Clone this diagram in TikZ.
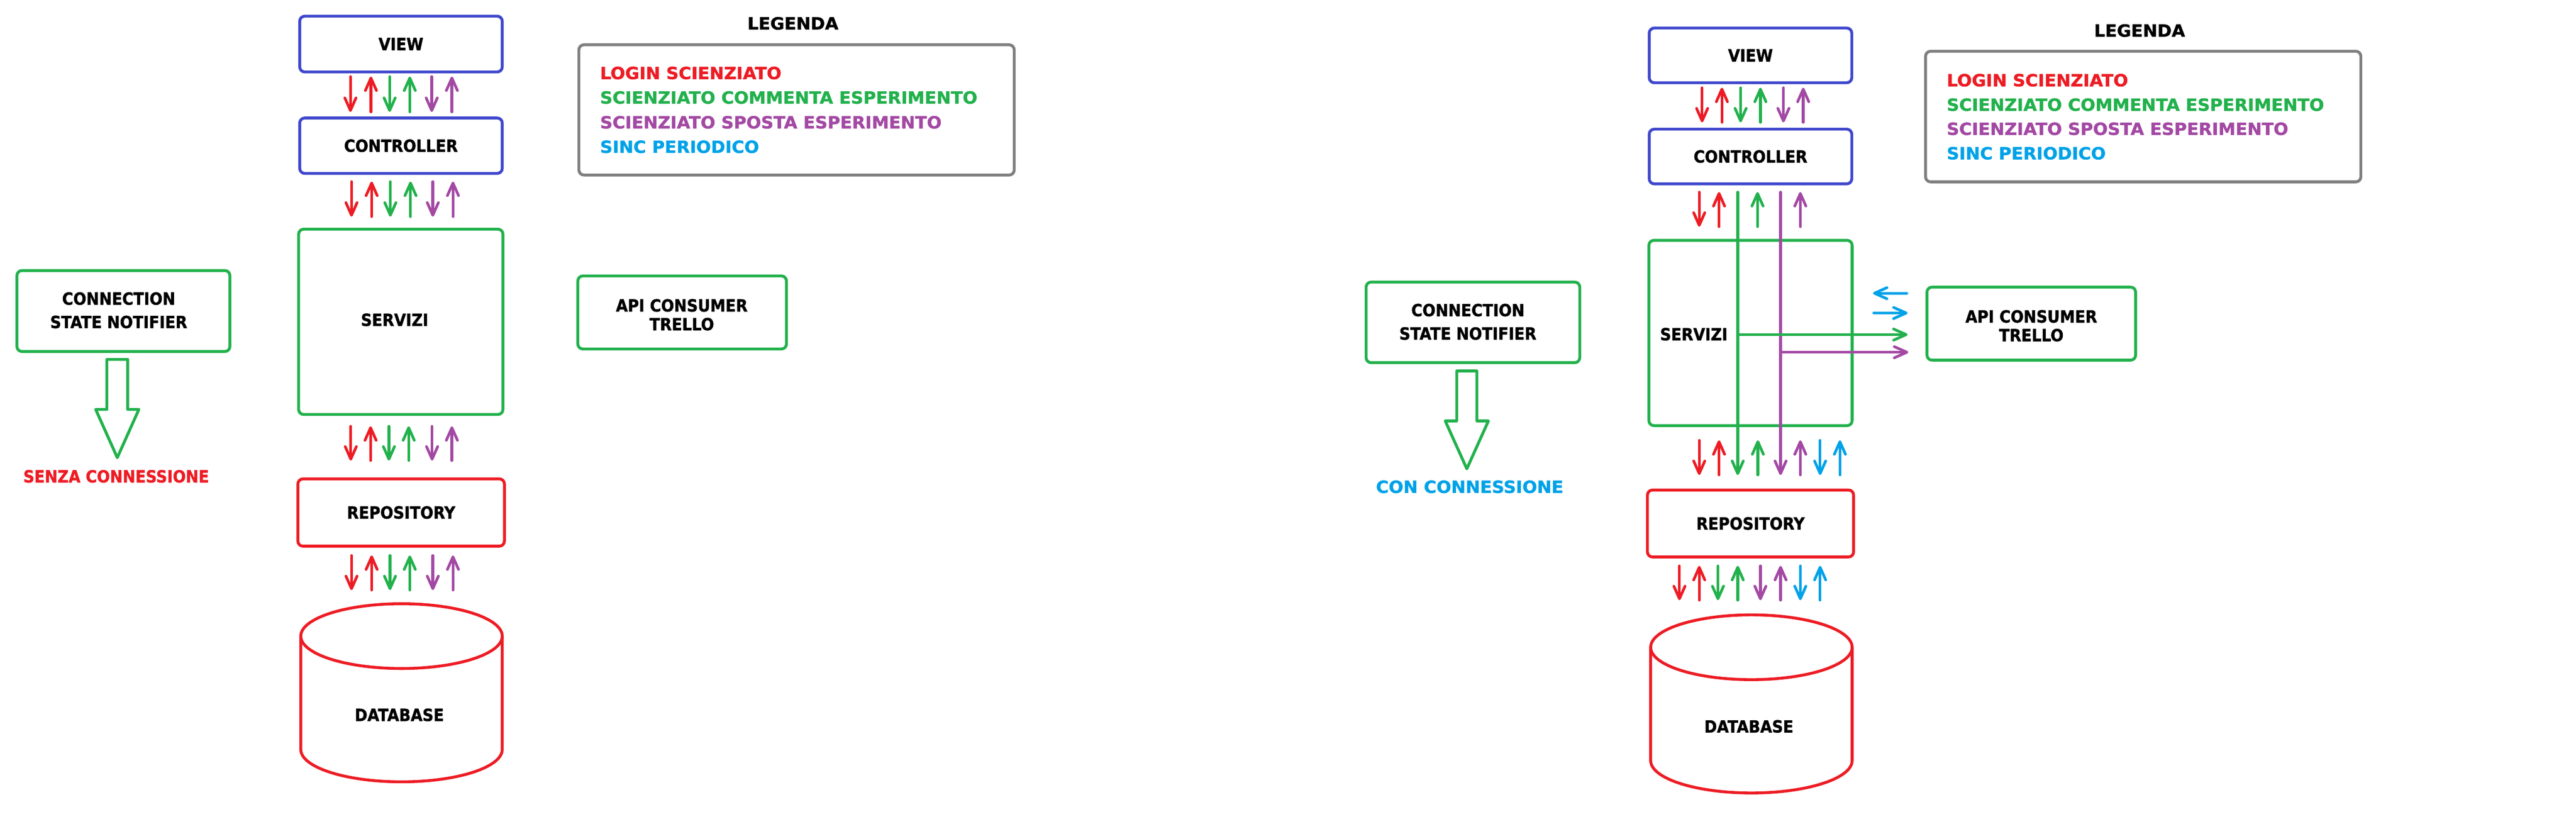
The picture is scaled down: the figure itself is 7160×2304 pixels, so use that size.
\documentclass[tikz,border=0pt]{standalone}
\usepackage{fontspec}
\usetikzlibrary{arrows.meta}
\newfontfamily\fnar{DejaVu Sans Bold}[FakeStretch=0.91,FakeBold=1.5]
\newfontfamily\fwid{DejaVu Sans Bold}[FakeStretch=1.03,FakeBold=1.5]
\definecolor{cblue}{HTML}{3F48CC}
\definecolor{cgreen}{HTML}{22B14C}
\definecolor{cred}{HTML}{ED1C24}
\definecolor{cpurp}{HTML}{A349A4}
\definecolor{ccyan}{HTML}{00A2E8}
\definecolor{cgray}{HTML}{7F7F7F}
\newcommand\adn[4]{\draw[arr,#1] (#2,#3) -- (#2,#4);}
\newcommand\aup[4]{\draw[arr,#1] (#2,#4) -- (#2,#3);}
\begin{document}
\begin{tikzpicture}[x=0.1pt,y=-0.1pt,
  box/.style={draw=#1, line width=0.8pt, rounded corners=1.4pt, inner sep=0pt,
    font=\fnar\fontsize{4.66pt}{5.2pt}\selectfont, align=center, text=black},
  lbl/.style={inner sep=0pt, font=\fnar\fontsize{4.66pt}{5.2pt}\selectfont, align=center},
  wlbl/.style={inner sep=0pt, font=\fwid\fontsize{4.66pt}{5.2pt}\selectfont},
  arr/.style={line width=0.75pt, line cap=round, -{Straight Barb[length=3.5pt,width=3.1pt,round]}},
  dbline/.style={draw=cred, line width=0.8pt},
  blockarrow/.style={draw=cgreen, line width=0.8pt, line join=round}]
\useasboundingbox (0,0) rectangle (7160,2304);

% ================= LEFT =================
\node[box=cblue, minimum width=56.3pt, minimum height=15.5pt] (lview) at (1114.5,122.5) {VIEW};
\node[box=cblue, minimum width=56.3pt, minimum height=15.4pt] (lctrl) at (1114.5,405) {CONTROLLER};
\node[box=cgreen, minimum width=56.8pt, minimum height=51.5pt] (lserv) at (1114,894.5) {};
\node[lbl] (lservt) at (1097,889) {SERVIZI};
\node[box=cred, minimum width=57.4pt, minimum height=18.7pt] (lrepo) at (1115,1424.5) {REPOSITORY};
% database
\draw[dbline] (1116,1768) ellipse [x radius=28pt, y radius=9pt];
\draw[dbline] (836,1768) -- (836,2083) arc[start angle=180, end angle=360, x radius=28pt, y radius=9pt] -- (1396,1768);
\node[lbl] (ldb) at (1110,1987) {DATABASE};
% legend
\node[wlbl] (lleg) at (2204,65) {LEGENDA};
\node[box=cgray, minimum width=121pt, minimum height=36.2pt] (llegbox) at (2214,305.5) {};
\node[wlbl, anchor=west, text=cred] (ll1) at (1666,203) {LOGIN SCIENZIATO};
\node[wlbl, anchor=west, text=cgreen] (ll2) at (1666,271) {SCIENZIATO COMMENTA ESPERIMENTO};
\node[wlbl, anchor=west, text=cpurp] (ll3) at (1666,340) {SCIENZIATO SPOSTA ESPERIMENTO};
\node[wlbl, anchor=west, text=ccyan] (ll4) at (1666,408) {SINC PERIODICO};
% api
\node[box=cgreen, minimum width=58pt, minimum height=20.3pt] (lapi) at (1896,868.5) {};
\node[lbl] (lapit) at (1895,875) {API CONSUMER\\TRELLO};
% notifier
\node[box=cgreen, minimum width=59.2pt, minimum height=22.5pt] (lnot) at (343,864.5) {};
\node[lbl, font=\fnar\fontsize{4.66pt}{6.5pt}\selectfont] (lnott) at (330,862.5) {CONNECTION\\STATE NOTIFIER};
\draw[blockarrow] (297,999) -- (355,999) -- (355,1138) -- (386,1138) -- (326,1272) -- (266,1138) -- (297,1138) -- cycle;
\node[lbl, text=cred] (lsenza) at (323,1324) {SENZA CONNESSIONE};
% arrows row 1
\adn{cred}{974}{213}{311} \aup{cred}{1031}{213}{311}
\adn{cgreen}{1083}{213}{311} \aup{cgreen}{1139}{213}{311}
\adn{cpurp}{1200}{213}{311} \aup{cpurp}{1256}{213}{311}
% row 2
\adn{cred}{977}{505}{602} \aup{cred}{1033}{505}{602}
\adn{cgreen}{1085}{505}{602} \aup{cgreen}{1141}{505}{602}
\adn{cpurp}{1203}{505}{602} \aup{cpurp}{1259}{505}{602}
% row 3
\adn{cred}{975}{1185}{1280} \aup{cred}{1030}{1185}{1280}
\adn{cgreen}{1081}{1185}{1280} \aup{cgreen}{1136}{1185}{1280}
\adn{cpurp}{1201}{1185}{1280} \aup{cpurp}{1256}{1185}{1280}
% row 4
\adn{cred}{977}{1544}{1640} \aup{cred}{1033}{1544}{1640}
\adn{cgreen}{1084}{1544}{1640} \aup{cgreen}{1139}{1544}{1640}
\adn{cpurp}{1203}{1544}{1640} \aup{cpurp}{1259}{1544}{1640}

% ================= RIGHT =================
\node[box=cblue, minimum width=56.3pt, minimum height=15.2pt] (rview) at (4865.5,154) {VIEW};
\node[box=cblue, minimum width=56.3pt, minimum height=15.2pt] (rctrl) at (4865.5,435) {CONTROLLER};
\node[box=cgreen, minimum width=56.5pt, minimum height=51.5pt] (rserv) at (4865.5,925.5) {};
\node[lbl] (rservt) at (4708,929) {SERVIZI};
\node[box=cred, minimum width=57.3pt, minimum height=18.6pt] (rrepo) at (4865.5,1455) {REPOSITORY};
% database
\draw[dbline] (4868,1799) ellipse [x radius=28pt, y radius=9pt];
\draw[dbline] (4588,1799) -- (4588,2114) arc[start angle=180, end angle=360, x radius=28pt, y radius=9pt] -- (5148,1799);
\node[lbl] (rdb) at (4861,2019) {DATABASE};
% legend
\node[wlbl] (rleg) at (5947,85) {LEGENDA};
\node[box=cgray, minimum width=121pt, minimum height=36.3pt] (rlegbox) at (5957,324) {};
\node[wlbl, anchor=west, text=cred] (rl1) at (5409,223) {LOGIN SCIENZIATO};
\node[wlbl, anchor=west, text=cgreen] (rl2) at (5409,291) {SCIENZIATO COMMENTA ESPERIMENTO};
\node[wlbl, anchor=west, text=cpurp] (rl3) at (5409,358) {SCIENZIATO SPOSTA ESPERIMENTO};
\node[wlbl, anchor=west, text=ccyan] (rl4) at (5409,426) {SINC PERIODICO};
% api
\node[box=cgreen, minimum width=58pt, minimum height=20.3pt] (rapi) at (5646,899.5) {};
\node[lbl] (rapit) at (5646,905.5) {API CONSUMER\\TRELLO};
% notifier
\node[box=cgreen, minimum width=59.4pt, minimum height=22.4pt] (rnot) at (4094,896) {};
\node[lbl, font=\fnar\fontsize{4.66pt}{6.5pt}\selectfont] (rnott) at (4080,894.5) {CONNECTION\\STATE NOTIFIER};
\draw[blockarrow] (4049,1031) -- (4105,1031) -- (4105,1170) -- (4137,1170) -- (4077,1303) -- (4017,1170) -- (4049,1170) -- cycle;
\node[wlbl, text=ccyan] (rcon) at (4085,1353) {CON CONNESSIONE};
% row 1
\adn{cred}{4731}{244}{340} \aup{cred}{4786}{244}{340}
\adn{cgreen}{4838}{244}{340} \aup{cgreen}{4893}{244}{340}
\adn{cpurp}{4957}{244}{340} \aup{cpurp}{5012}{244}{340}
% row 2
\adn{cred}{4723}{534}{630} \aup{cred}{4778}{534}{630}
\aup{cgreen}{4885}{534}{630}
\aup{cpurp}{5004}{534}{630}
% long lines through servizi
\coordinate (gtop) at (4830,534);
\coordinate (ptop) at (4949,534);
\draw[arr,cgreen] (gtop) -- (4830,1320);
\draw[arr,cpurp] (ptop) -- (4949,1320);
\draw[line width=0.75pt,cgreen] (4830,930) -- (5200,930);
\draw[arr,cgreen] (5200,930) -- (5302,930);
\draw[line width=0.75pt,cpurp] (4949,979) -- (5200,979);
\draw[arr,cpurp] (5200,979) -- (5304,979);
\draw[arr,ccyan] (5300,815) -- (5206,815);
\draw[arr,ccyan] (5208,870) -- (5302,870);
% row 3
\adn{cred}{4723}{1224}{1320} \aup{cred}{4778}{1224}{1320}
\aup{cgreen}{4886}{1224}{1320}
\aup{cpurp}{5004}{1224}{1320}
\adn{ccyan}{5059}{1224}{1320} \aup{ccyan}{5114}{1224}{1320}
% row 4
\adn{cred}{4668}{1573}{1668} \aup{cred}{4723}{1573}{1668}
\adn{cgreen}{4775}{1573}{1668} \aup{cgreen}{4830}{1573}{1668}
\adn{cpurp}{4893}{1573}{1668} \aup{cpurp}{4949}{1573}{1668}
\adn{ccyan}{5004}{1573}{1668} \aup{ccyan}{5059}{1573}{1668}
\end{tikzpicture}
\end{document}
